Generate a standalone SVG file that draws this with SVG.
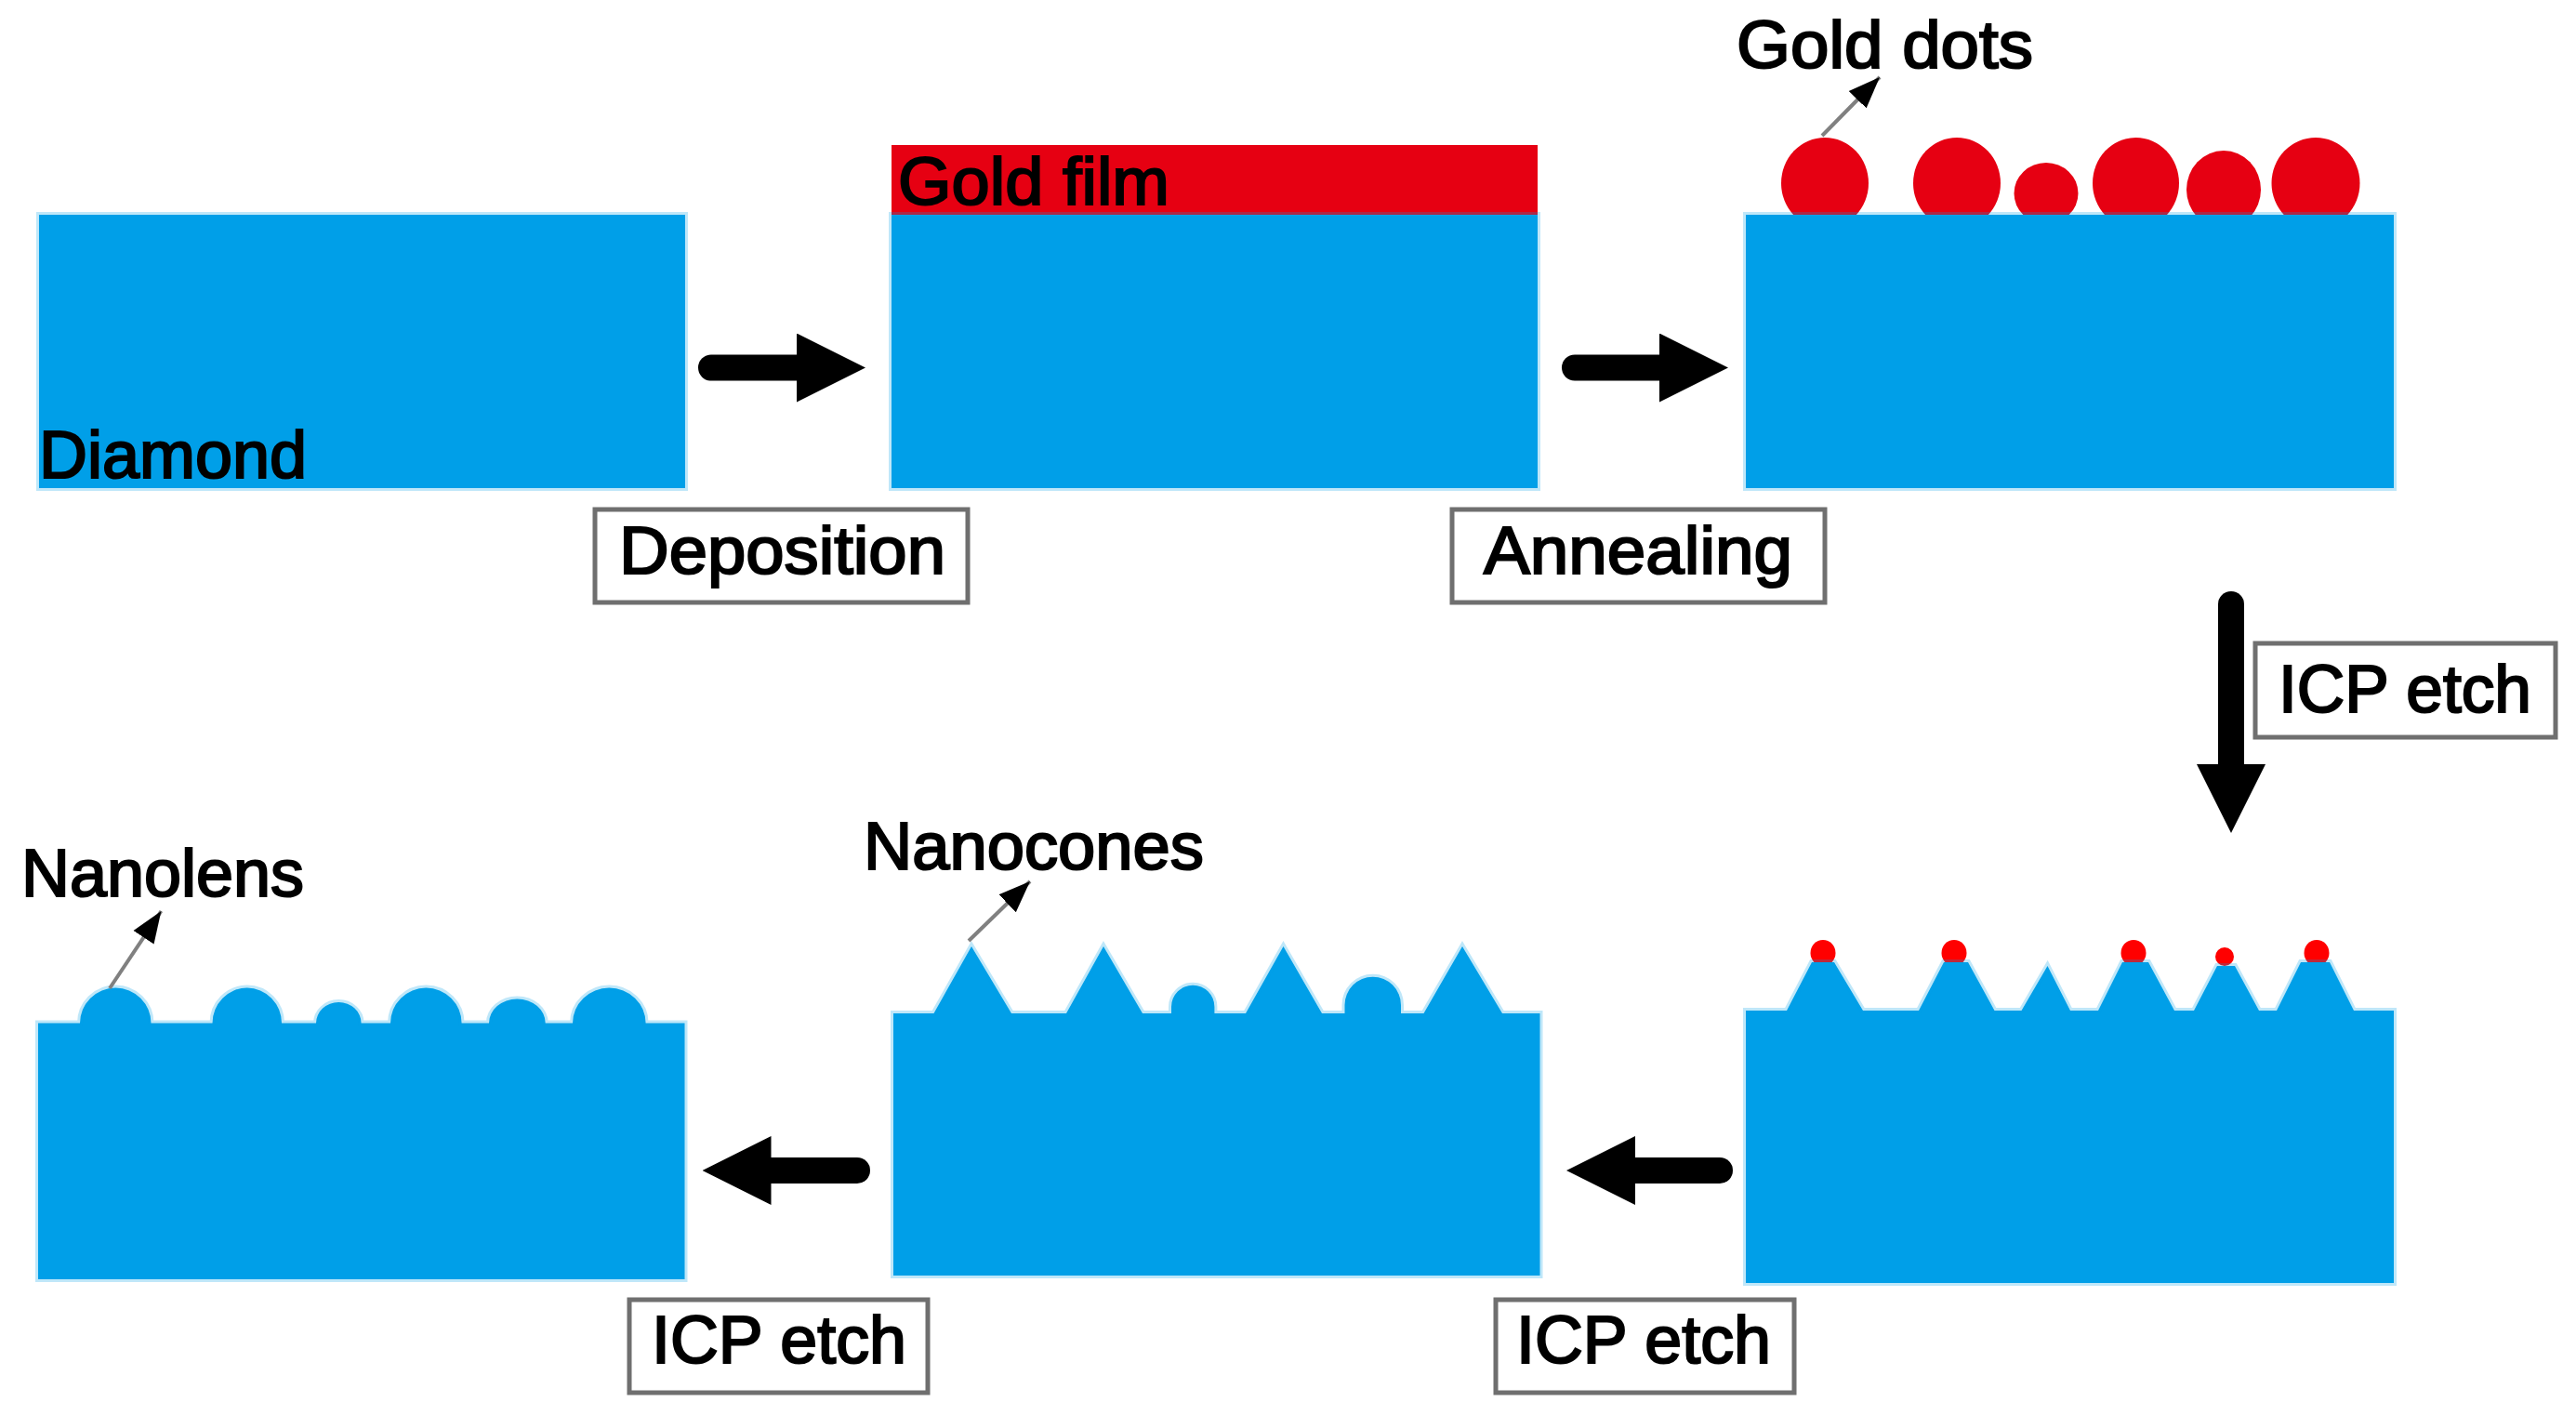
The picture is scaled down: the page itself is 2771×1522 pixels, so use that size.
<svg xmlns="http://www.w3.org/2000/svg" width="2771" height="1522" viewBox="0 0 2771 1522">
<style>
.sub{fill:#009fe8;stroke:#009fe8;stroke-opacity:.25;stroke-width:6;stroke-linejoin:miter}
.gold{fill:#e60012}
.tip{fill:#ff0000}
.t{font-family:"Liberation Sans",Arial,sans-serif;font-size:73px;fill:#000;stroke:#000;stroke-width:2.2}
.box{fill:#fff;stroke:#6f6f6f;stroke-width:5}
.shaft{stroke:#000;stroke-width:28;stroke-linecap:round;fill:none;marker-end:url(#big)}
.lead{stroke:#808080;stroke-width:4;fill:none;marker-end:url(#small)}
</style>
<defs>
<marker id="big" markerUnits="userSpaceOnUse" markerWidth="74" markerHeight="74" viewBox="0 0 72 72" refX="0" refY="36" orient="auto"><polygon points="0,0 72,36 0,72" fill="#000"/></marker>
<marker id="small" markerUnits="userSpaceOnUse" markerWidth="34" markerHeight="34" viewBox="0 0 36 36" refX="36" refY="18" orient="auto"><polygon points="0,4 36,18 0,32" fill="#000"/></marker>
</defs>
<rect width="2771" height="1522" fill="#fff"/>

<g id="step-diamond">
<rect class="sub" x="42" y="231" width="695" height="294"/>
<text class="t" x="42" y="514" textLength="288" lengthAdjust="spacingAndGlyphs">Diamond</text>
</g>

<g id="step-gold-film">
<rect class="gold" x="959" y="156" width="695" height="80"/>
<rect class="sub" x="959" y="231" width="695" height="294"/>
<text class="t" x="966" y="220" textLength="292" lengthAdjust="spacingAndGlyphs">Gold film</text>
</g>

<g id="step-gold-dots">
<ellipse class="gold" cx="1963" cy="197" rx="47" ry="49"/>
<ellipse class="gold" cx="2105" cy="197" rx="47" ry="49"/>
<ellipse class="gold" cx="2201" cy="208" rx="34.500" ry="33"/>
<ellipse class="gold" cx="2297.500" cy="197" rx="46.500" ry="49"/>
<ellipse class="gold" cx="2392" cy="204" rx="40" ry="42"/>
<ellipse class="gold" cx="2491" cy="197" rx="47.500" ry="49"/>
<rect class="sub" x="1878" y="231" width="697" height="294"/>
<text class="t" x="1868" y="73" textLength="319" lengthAdjust="spacingAndGlyphs">Gold dots</text>
</g>

<g id="step-etched-dots">
<ellipse class="tip" cx="1961" cy="1025" rx="13.500" ry="14"/>
<ellipse class="tip" cx="2102" cy="1025" rx="13.500" ry="14"/>
<ellipse class="tip" cx="2295" cy="1025" rx="13.500" ry="14"/>
<ellipse class="tip" cx="2393" cy="1029" rx="10" ry="10"/>
<ellipse class="tip" cx="2492" cy="1025" rx="13.500" ry="14"/>
<path class="sub" d="M1878 1087H1922L1949 1035H1973L2004 1087H2064L2091 1035H2117L2145.500 1087H2174.500L2202.500 1039L2227 1087H2257L2283 1035H2311L2339 1087H2360L2385 1039H2404L2430 1087H2449L2475 1035H2506L2532 1087H2575V1380H1878Z"/>
</g>

<g id="step-nanocones">
<path class="sub" d="M961 1090H1004.500L1045 1018L1088 1090H1147L1187 1018L1229 1090H1260V1083A23.200 23.200 0 0 1 1306.400 1083V1090H1340L1380.500 1018L1422 1090H1446.500V1081A30.250 30.250 0 0 1 1507 1081V1090H1531.500L1573 1018L1616 1090H1656.500V1372H961Z"/>
<text class="t" x="929" y="935" textLength="366" lengthAdjust="spacingAndGlyphs">Nanocones</text>
</g>

<g id="step-nanolens">
<path class="sub" d="M41 1100.500H86A38.250 38 0 0 1 162.500 1100.500H228.500A37.250 38 0 0 1 303 1100.500H340A24.300 22.500 0 0 1 388.600 1100.500H420A38.300 38 0 0 1 496.600 1100.500H526A30.350 26 0 0 1 586.700 1100.500H616A39.300 38 0 0 1 694.600 1100.500H736.500V1376H41Z"/>
<text class="t" x="23" y="964" textLength="304" lengthAdjust="spacingAndGlyphs">Nanolens</text>
</g>

<g id="label-deposition">
<rect class="box" x="640" y="548" width="401" height="100"/>
<text class="t" x="666" y="617" textLength="351" lengthAdjust="spacingAndGlyphs">Deposition</text>
</g>
<g id="label-annealing">
<rect class="box" x="1562" y="548" width="401" height="100"/>
<text class="t" x="1596" y="617" textLength="332" lengthAdjust="spacingAndGlyphs">Annealing</text>
</g>
<g id="label-icp-1">
<rect class="box" x="2426" y="692" width="323" height="101"/>
<text class="t" x="2451" y="766" textLength="272" lengthAdjust="spacingAndGlyphs">ICP etch</text>
</g>
<g id="label-icp-2">
<rect class="box" x="1609" y="1398" width="321" height="100"/>
<text class="t" x="1631" y="1466" textLength="274" lengthAdjust="spacingAndGlyphs">ICP etch</text>
</g>
<g id="label-icp-3">
<rect class="box" x="677" y="1398" width="321" height="100"/>
<text class="t" x="701" y="1466" textLength="274" lengthAdjust="spacingAndGlyphs">ICP etch</text>
</g>

<g id="connectors">
<line class="shaft" x1="765" y1="395.500" x2="857" y2="395.500"/>
<line class="shaft" x1="1694" y1="395.500" x2="1785" y2="395.500"/>
<line class="shaft" x1="2400" y1="650" x2="2400" y2="822"/>
<line class="shaft" x1="1850" y1="1259" x2="1759" y2="1259"/>
<line class="shaft" x1="922" y1="1259" x2="829.500" y2="1259"/>
<line class="lead" x1="1960" y1="146" x2="2022" y2="83"/>
<line class="lead" x1="1042" y1="1012" x2="1108" y2="948"/>
<line class="lead" x1="118" y1="1063" x2="173.400" y2="980"/>
</g>
</svg>
